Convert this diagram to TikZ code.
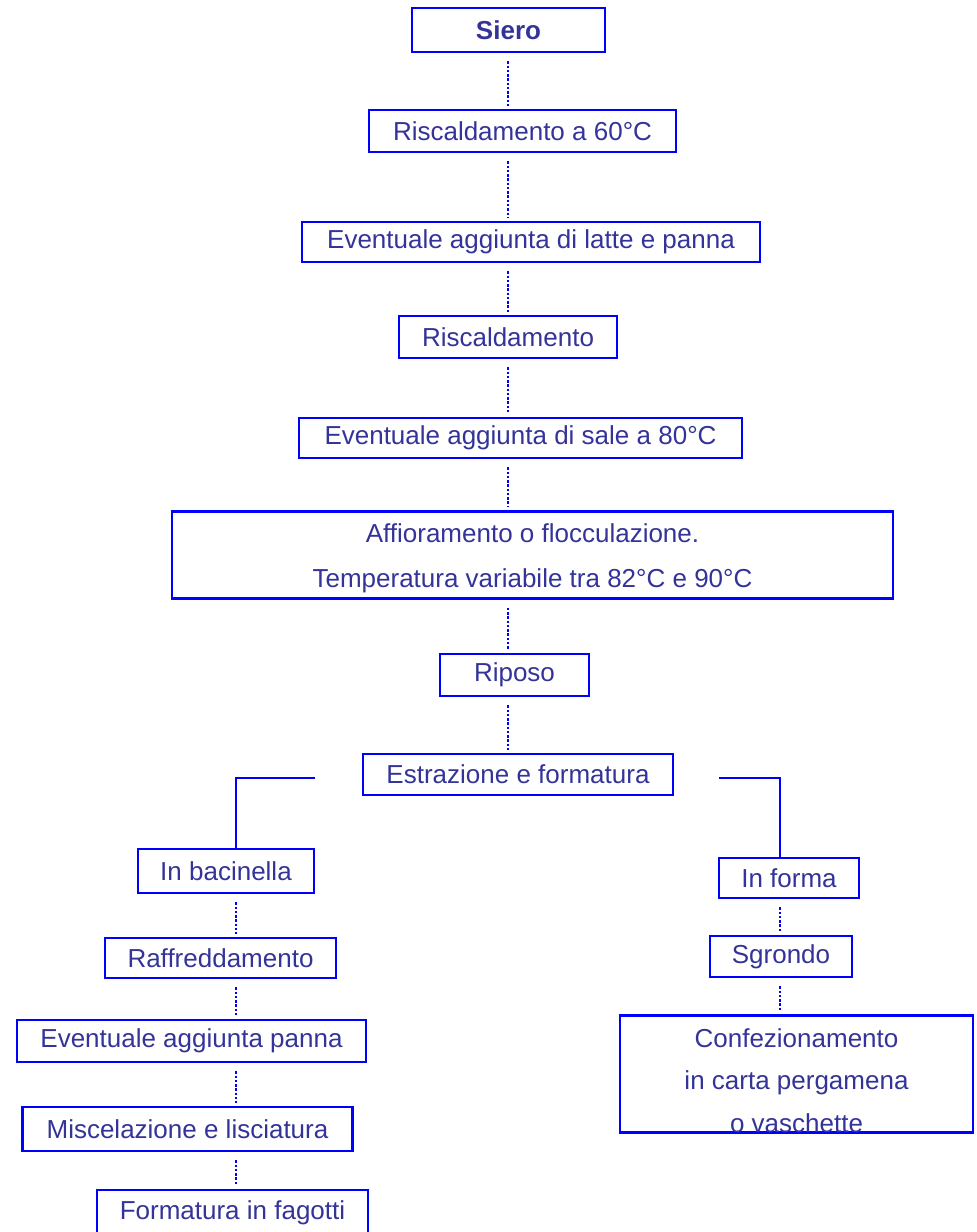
\documentclass[tikz,border=0pt]{standalone}
\usepackage{fontspec}
\setmainfont{Liberation Sans}
\usepackage{xcolor}
\definecolor{boxblue}{RGB}{0,0,255}
\definecolor{txtblue}{RGB}{51,51,153}
\newdimen\pxu \pxu=0.75pt

\tikzset{
  box/.style={draw=boxblue, line width=2pt, text=txtblue, inner sep=0pt,
    font=\fontsize{19.5}{33.75}\selectfont, align=center},
  conn/.style={draw=boxblue, line width=2.2pt, dash pattern=on 1.8pt off 1.4pt,
    shorten <=8\pxu, shorten >=3\pxu},
  branch/.style={draw=boxblue, line width=2pt}
}

\begin{document}
\begin{tikzpicture}[x=0.75pt,y=-0.75pt]
\clip (0,0) rectangle (977,1232);

    % main column
    \node[box, minimum width=193\pxu, minimum height=44\pxu, font=\fontsize{19.5}{24}\selectfont\bfseries]
        (siero) at (508.5,30) {Siero};
    \node[box, minimum width=307\pxu, minimum height=42\pxu] (risc60) at (522.5,131) {Riscaldamento a 60°C};
    \node[box, minimum width=458\pxu, minimum height=40\pxu] (latte) at (531,242) {Eventuale aggiunta di latte e panna};
    \node[box, minimum width=218\pxu, minimum height=42\pxu] (risc) at (508,337) {Riscaldamento};
    \node[box, minimum width=443\pxu, minimum height=40\pxu] (sale) at (520.5,438) {Eventuale aggiunta di sale a 80°C};
    \node[box, minimum width=721\pxu, minimum height=87\pxu] (affior) at (532.5,555)
        {\rule{0pt}{19pt}Affioramento o flocculazione.\\Temperatura variabile tra 82°C e 90°C};
    \node[box, minimum width=149\pxu, minimum height=42\pxu] (riposo) at (514.5,675) {Riposo};
    \node[box, minimum width=310\pxu, minimum height=41\pxu] (estr) at (518,774.5) {Estrazione e formatura};

    % left branch
    \node[box, minimum width=176\pxu, minimum height=44\pxu] (bacin) at (226,871) {In bacinella};
    \node[box, minimum width=231\pxu, minimum height=40\pxu] (raffr) at (220.5,958) {Raffreddamento};
    \node[box, minimum width=349\pxu, minimum height=42\pxu] (panna) at (191.5,1041) {Eventuale aggiunta panna};
    \node[box, minimum width=330\pxu, minimum height=44\pxu] (miscel) at (187.5,1129) {Miscelazione e lisciatura};
    \node[box, minimum width=271\pxu, minimum height=46\pxu] (fagotti) at (232.5,1213) {Formatura in fagotti};

    % right branch
    \node[box, minimum width=140\pxu, minimum height=40\pxu] (forma) at (789,878) {In forma};
    \node[box, minimum width=142\pxu, minimum height=41\pxu] (sgrondo) at (781,956.5) {Sgrondo};
    \node[box, minimum width=353\pxu, minimum height=114\pxu, font=\fontsize{19.5}{31.9}\selectfont]
        (confez) at (796.5,1074) {\rule{0pt}{23.5pt}Confezionamento\\in carta pergamena\\o vaschette};

    \coordinate (mcol) at (508,0);
    \coordinate (lcol) at (236,0);
    \coordinate (rcol) at (780,0);

    % dotted links
    \foreach \a/\b in {siero/risc60,risc60/latte,latte/risc,risc/sale,sale/affior,affior/riposo,riposo/estr}
        \draw[conn] (\a.south -| mcol) -- (\b.north -| mcol);
    \foreach \a/\b in {bacin/raffr,raffr/panna,panna/miscel,miscel/fagotti}
        \draw[conn] (\a.south -| lcol) -- (\b.north -| lcol);
    \foreach \a/\b in {forma/sgrondo,sgrondo/confez}
        \draw[conn] (\a.south -| rcol) -- (\b.north -| rcol);

    % branches
    \draw[branch, shorten <=47\pxu] ([yshift=-2.6pt]estr.west) -| (bacin.north -| lcol);
    \draw[branch, shorten <=45\pxu] ([yshift=-2.6pt]estr.east) -| (forma.north -| rcol);
\end{tikzpicture}
\end{document}
